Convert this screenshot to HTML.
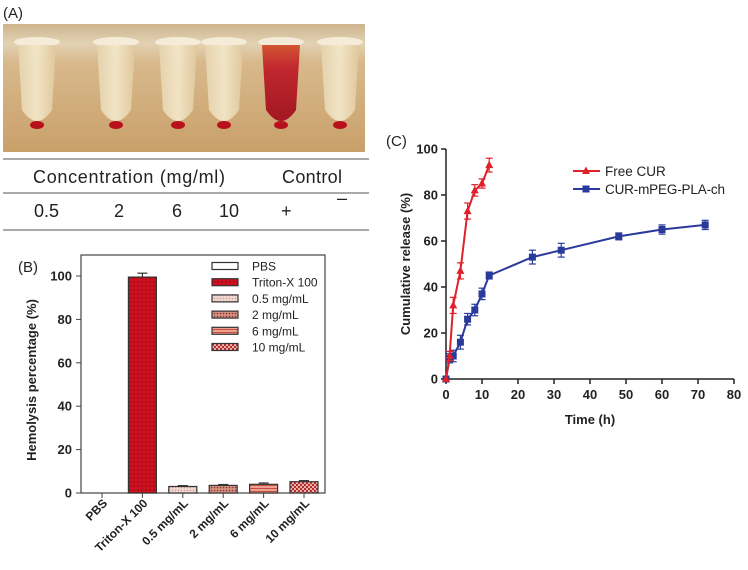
<!DOCTYPE html>
<html><head><meta charset="utf-8">
<style>
body{margin:0;background:#fff;width:748px;height:570px;overflow:hidden;font-family:"Liberation Sans",Arial,sans-serif;}
svg{position:absolute;left:0;top:0}
</style></head>
<body>
<svg width="748" height="570" viewBox="0 0 748 570">
<defs>
<linearGradient id="bg" x1="0" y1="0" x2="0" y2="1">
<stop offset="0" stop-color="#cdb48c"/><stop offset="0.15" stop-color="#e2d2b4"/><stop offset="0.3" stop-color="#d8b98c"/><stop offset="1" stop-color="#c9a06a"/></linearGradient>
<linearGradient id="tube" x1="0" y1="0" x2="1" y2="0">
<stop offset="0" stop-color="#e6d3ae"/><stop offset="0.5" stop-color="#f2e6c8"/><stop offset="1" stop-color="#e0c89c"/></linearGradient>
<linearGradient id="redtube" x1="0" y1="0" x2="0" y2="1">
<stop offset="0" stop-color="#d2502a"/><stop offset="0.3" stop-color="#c0202a"/><stop offset="1" stop-color="#a0101c"/></linearGradient>
<pattern id="dots" width="4" height="4" patternUnits="userSpaceOnUse"><rect width="4" height="4" fill="#cc1020"/><circle cx="2" cy="2" r="0.7" fill="#7a0810"/></pattern>
<pattern id="p05" width="3" height="3" patternUnits="userSpaceOnUse"><rect width="3" height="3" fill="#f2d8d0"/><circle cx="1.5" cy="1.5" r="0.7" fill="#c89a90"/></pattern>
<pattern id="p2" width="3" height="3" patternUnits="userSpaceOnUse"><rect width="3" height="3" fill="#d89080"/><circle cx="1.5" cy="1.5" r="0.8" fill="#7a3a30"/></pattern>
<pattern id="p6" width="4" height="3" patternUnits="userSpaceOnUse"><rect width="4" height="3" fill="#f0a090"/><rect y="2" width="4" height="1" fill="#c05040"/></pattern>
<pattern id="p10" width="4" height="4" patternUnits="userSpaceOnUse"><rect width="4" height="4" fill="#f0b0a8"/><rect width="2" height="2" fill="#b03030"/><rect x="2" y="2" width="2" height="2" fill="#b03030"/></pattern>
</defs>

<!-- Panel A -->
<g>
<text x="3" y="18" font-size="15" fill="#222">(A)</text>
<rect x="3" y="24" width="362" height="128" fill="url(#bg)"/>
<g id="tubes"></g>
<line x1="3" y1="159" x2="369" y2="159" stroke="#555" stroke-width="1"/>
<line x1="3" y1="193" x2="369" y2="193" stroke="#555" stroke-width="1"/>
<line x1="3" y1="230" x2="369" y2="230" stroke="#555" stroke-width="1"/>
<text x="33" y="183" font-size="18" textLength="192" fill="#222">Concentration  (mg/ml)</text>
<text x="282" y="183" font-size="18" textLength="60" fill="#222">Control</text>
<g font-size="18" fill="#222">
<text x="34" y="217">0.5</text><text x="114" y="217">2</text><text x="172" y="217">6</text><text x="219" y="217">10</text><text x="281" y="217">+</text><text x="337" y="204">–</text>
</g>
</g>

<!-- Panel B -->
<g id="panelB">
<text x="18" y="272" font-size="15" fill="#222">(B)</text>
<rect x="81" y="255" width="244" height="238" fill="none" stroke="#444" stroke-width="1.2"/>
<text transform="translate(36,380) rotate(-90)" text-anchor="middle" font-size="13" font-weight="bold" fill="#222">Hemolysis percentage (%)</text>
</g>

<!-- Panel C -->
<g id="panelC">
<text x="386" y="146" font-size="15" fill="#222">(C)</text>
<text transform="translate(410,264) rotate(-90)" text-anchor="middle" font-size="13" font-weight="bold" fill="#222">Cumulative release (%)</text>
<text x="590" y="424" text-anchor="middle" font-size="13" font-weight="bold" fill="#222">Time (h)</text>
</g>
</svg>
<script>
const NS='http://www.w3.org/2000/svg';
function mk(t,a,p){const e=document.createElementNS(NS,t);for(const k in a)e.setAttribute(k,a[k]);p.appendChild(e);return e;}

// Tubes (photo)
const tubeX=[37,116,178,224,281,340];
const tubeRed=[0,0,0,0,1,0];
const tg=document.getElementById('tubes');
tubeX.forEach((cx,i)=>{
  const g=mk('g',{},tg);
  
  
  mk('ellipse',{cx:cx,cy:42,rx:23,ry:5,fill:'#f4ecd8'},g);
  mk('path',{d:`M${cx-19} 45 L${cx+19} 45 L${cx+15} 110 Q${cx} 132 ${cx-15} 110 Z`,fill:tubeRed[i]?'url(#redtube)':'url(#tube)',opacity:0.95},g);
  mk('ellipse',{cx:cx,cy:125,rx:7,ry:4,fill:'#b8101c'},g);
});

// Panel B data
const catsB=['PBS','Triton-X 100','0.5 mg/mL','2 mg/mL','6 mg/mL','10 mg/mL'];
const valsB=[0,99.5,3,3.5,4,5.2];
const errB=[0,1.8,0.4,0.4,0.6,0.5];
const yTicksB=[0,20,40,60,80,100];
const fillsB=['#fff','url(#dots)','url(#p05)','url(#p2)','url(#p6)','url(#p10)'];
const pb=document.getElementById('panelB');
const yB=v=>493-v*2.17;
const xB=i=>102+i*40.4;
yTicksB.forEach(t=>{
  const l=mk('line',{x1:76,x2:81,y1:yB(t),y2:yB(t),stroke:'#444'},pb);
  
  
  const tx=mk('text',{x:72,y:yB(t)+4.5,'text-anchor':'end','font-size':13,'font-weight':'bold',fill:'#222'},pb);
  
  
  tx.textContent=t;
});
catsB.forEach((c,i)=>{
  const x=xB(i);
  if(valsB[i]>0){
    const r=mk('rect',{x:x-14,y:yB(valsB[i]),width:28,height:493-yB(valsB[i]),fill:fillsB[i],stroke:'#333','stroke-width':1.2},pb);
    
    
    const ey=yB(valsB[i]+errB[i]);
    mk('line',{x1:x,x2:x,y1:yB(valsB[i]),y2:ey,stroke:'#333','stroke-width':1.2},pb);
    mk('line',{x1:x-5,x2:x+5,y1:ey,y2:ey,stroke:'#333','stroke-width':1.2},pb);
  }
  mk('line',{x1:x,x2:x,y1:493,y2:498,stroke:'#444'},pb);
  const t=mk('text',{transform:`translate(${x+6},504) rotate(-45)`,'text-anchor':'end','font-size':12,'font-weight':'bold',fill:'#222'},pb);
  
  
  t.textContent=c;
});
const legB=['PBS','Triton-X 100','0.5 mg/mL','2 mg/mL','6 mg/mL','10 mg/mL'];
legB.forEach((l,i)=>{
  const y=266+i*16.2;
  const r=mk('rect',{x:212,y:y-3.5,width:26,height:7,fill:fillsB[i],stroke:'#333','stroke-width':1.2},pb);
  
  
  const t=mk('text',{x:252,y:y+4.5,'font-size':12,fill:'#222'},pb);
  
  
  t.textContent=l;
});

// Panel C data
const timeFree=[0,1,2,4,6,8,10,12];
const relFree=[0,10,32,47,73,82,85,93];
const errFree=[0,2,3.5,3.5,3.5,2.5,2,3];
const timeNano=[0,1,2,4,6,8,10,12,24,32,48,60,72];
const relNano=[0,9,10,16,26,30,37,45,53,56,62,65,67];
const errNano=[0,2,2.5,3,2.5,2.5,2.5,1.5,3,3,1.5,2,2];
const xTicksC=[0,10,20,30,40,50,60,70,80];
const yTicksC=[0,20,40,60,80,100];
const pc=document.getElementById('panelC');
const xC=v=>446+v*3.6;
const yC=v=>379-v*2.3;
mk('line',{x1:446,x2:446,y1:149,y2:379,stroke:'#222','stroke-width':1.5},pc);
mk('line',{x1:446,x2:734,y1:379,y2:379,stroke:'#222','stroke-width':1.5},pc);
yTicksC.forEach(t=>{
  mk('line',{x1:441,x2:446,y1:yC(t),y2:yC(t),stroke:'#222','stroke-width':1.5},pc);
  const tx=mk('text',{x:438,y:yC(t)+4.5,'text-anchor':'end','font-size':13,'font-weight':'bold',fill:'#222'},pc);
  
  
  tx.textContent=t;
});
xTicksC.forEach(t=>{
  mk('line',{x1:xC(t),x2:xC(t),y1:379,y2:384,stroke:'#222','stroke-width':1.5},pc);
  const tx=mk('text',{x:xC(t),y:399,'text-anchor':'middle','font-size':13,'font-weight':'bold',fill:'#222'},pc);
  
  
  tx.textContent=t;
});
function series(xs,ys,es,color,tri,name){
  const g=mk('g',{},pc);
  
  
  mk('polyline',{points:xs.map((x,i)=>xC(x)+','+yC(ys[i])).join(' '),fill:'none',stroke:color,'stroke-width':2},g);
  xs.forEach((x,i)=>{
    const cx=xC(x),cy=yC(ys[i]);
    if(es[i]>0){
      mk('line',{x1:cx,x2:cx,y1:yC(ys[i]-es[i]),y2:yC(ys[i]+es[i]),stroke:color,'stroke-width':1.2},g);
      [ys[i]-es[i],ys[i]+es[i]].forEach(v=>mk('line',{x1:cx-3.5,x2:cx+3.5,y1:yC(v),y2:yC(v),stroke:color,'stroke-width':1.2},g));
    }
    if(tri) mk('path',{d:`M${cx} ${cy-4.5} L${cx+4} ${cy+3} L${cx-4} ${cy+3} Z`,fill:color},g);
    else mk('rect',{x:cx-3.5,y:cy-3.5,width:7,height:7,fill:color},g);
  });
}
series(timeNano,relNano,errNano,'#2a3a9a',false,'series-cur-mpeg-pla-ch');
series(timeFree,relFree,errFree,'#e0202a',true,'series-free-cur');
[['Free CUR','#e0202a',true,171,0],['CUR-mPEG-PLA-ch','#2a3a9a',false,189,120]].forEach(([l,c,tri,y,w])=>{
  mk('line',{x1:573,x2:600,y1:y,y2:y,stroke:c,'stroke-width':2},pc);
  if(tri) mk('path',{d:`M586 ${y-4.5} L590 ${y+3} L582 ${y+3} Z`,fill:c},pc);
  else mk('rect',{x:582.5,y:y-3.5,width:7,height:7,fill:c},pc);
  const a={x:605,y:y+5,'font-size':13.5,fill:'#222'};
  if(w) a.textLength=w;
  const t=mk('text',a,pc);
  
  
  t.textContent=l;
});
</script>
</body></html>
